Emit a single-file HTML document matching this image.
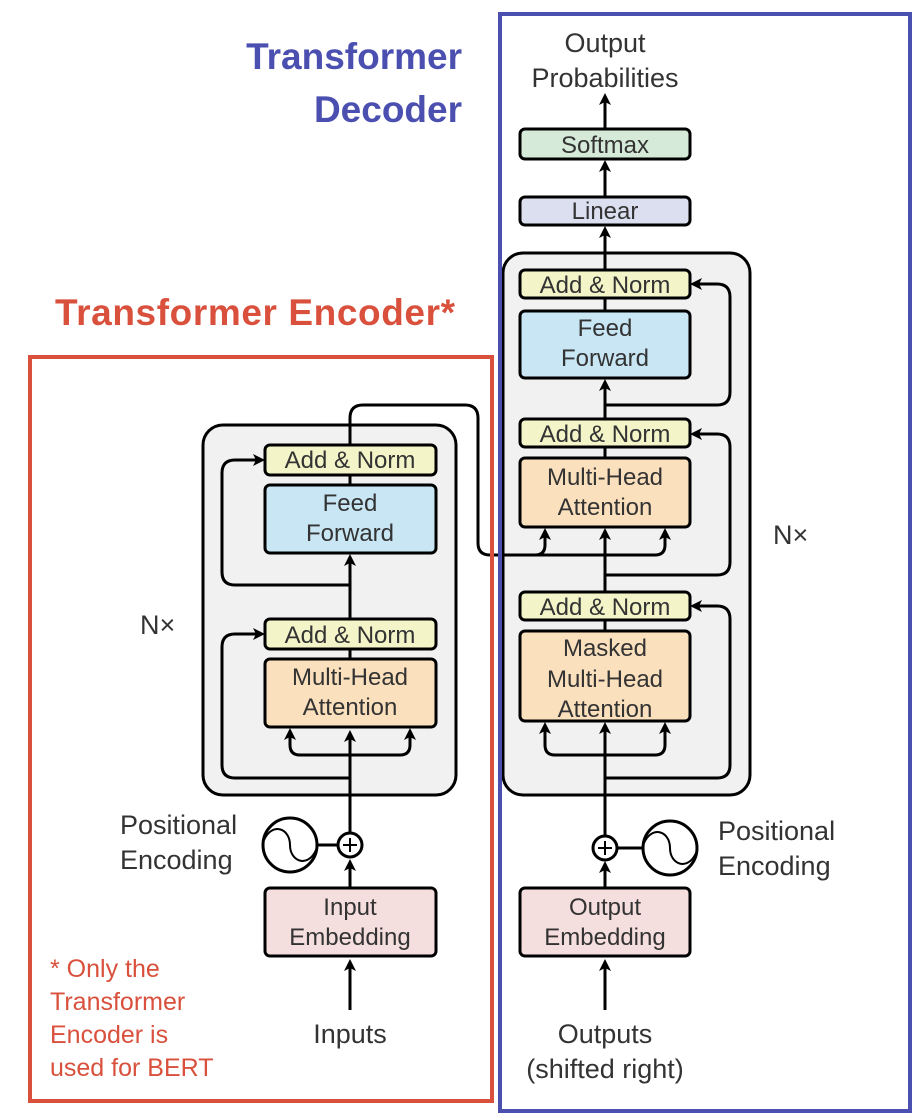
<!DOCTYPE html><html><head><style>body{margin:0;background:#fff}svg{display:block}</style></head><body>
<svg width="920" height="1120" viewBox="0 0 920 1120" xmlns="http://www.w3.org/2000/svg" font-family="Liberation Sans, sans-serif">
<defs><marker id="a" markerWidth="12" markerHeight="12" refX="9" refY="6" orient="auto" markerUnits="userSpaceOnUse"><path d="M0,0 L12,6 L0,12 L3,6z" fill="#000"/></marker></defs>
<rect x="0" y="0" width="920" height="1120" fill="#fff"/>
<rect x="203" y="425" width="253" height="370" rx="20" fill="#f1f1f1" stroke="#000" stroke-width="3"/>
<rect x="503" y="253" width="247" height="542" rx="20" fill="#f1f1f1" stroke="#000" stroke-width="3"/>
<g fill="none" stroke="#000" stroke-width="3">
<path d="M350 1010 L350 962" marker-end="url(#a)"/>
<path d="M350 888 L350 862" marker-end="url(#a)"/>
<path d="M350 833 L350 733" marker-end="url(#a)"/>
<path d="M350 778 L235 778 Q222 778 222 765 L222 647 Q222 634 235 634 L262 634" marker-end="url(#a)"/>
<path d="M300 755 Q290 755 290 745 L290 731" marker-end="url(#a)"/>
<path d="M300 755 L400 755 Q410 755 410 745 L410 731" marker-end="url(#a)"/>
<path d="M350 659 L350 649"/>
<path d="M350 619 L350 557" marker-end="url(#a)"/>
<path d="M350 585 L235 585 Q222 585 222 572 L222 473 Q222 460 235 460 L262 460" marker-end="url(#a)"/>
<path d="M350 485 L350 475"/>
<path d="M350 445 L350 418 Q350 405 363 405 L465 405 Q478 405 478 418 L478 543 Q478 555 490 555 L655 555 Q665 555 665 545 L665 531" marker-end="url(#a)"/>
<path d="M535 555 Q545 555 545 545 L545 531" marker-end="url(#a)"/>
<path d="M605 1010 L605 962" marker-end="url(#a)"/>
<path d="M605 888 L605 864" marker-end="url(#a)"/>
<path d="M605 836 L605 725" marker-end="url(#a)"/>
<path d="M605 778 L717 778 Q730 778 730 765 L730 619 Q730 606 717 606 L693 606" marker-end="url(#a)"/>
<path d="M555 755 Q545 755 545 745 L545 725" marker-end="url(#a)"/>
<path d="M555 755 L655 755 Q665 755 665 745 L665 725" marker-end="url(#a)"/>
<path d="M605 631 L605 620"/>
<path d="M605 592 L605 531" marker-end="url(#a)"/>
<path d="M605 575 L717 575 Q730 575 730 562 L730 447 Q730 434 717 434 L693 434" marker-end="url(#a)"/>
<path d="M605 458 L605 447"/>
<path d="M605 419 L605 382" marker-end="url(#a)"/>
<path d="M605 405 L717 405 Q730 405 730 392 L730 297 Q730 284 717 284 L693 284" marker-end="url(#a)"/>
<path d="M605 311 L605 298"/>
<path d="M605 270 L605 229" marker-end="url(#a)"/>
<path d="M605 197 L605 163" marker-end="url(#a)"/>
<path d="M605 129 L605 96" marker-end="url(#a)"/>
<path d="M317 845 L338 845"/><path d="M617 848 L643 848"/>
</g>
<g stroke="#000" stroke-width="3">
<rect x="265" y="445" width="171" height="30" rx="5" fill="#f3f5c8"/>
<rect x="265" y="485" width="171" height="68" rx="5" fill="#c8e6f4"/>
<rect x="265" y="619" width="171" height="30" rx="5" fill="#f3f5c8"/>
<rect x="265" y="659" width="171" height="68" rx="5" fill="#fbe0bd"/>
<rect x="265" y="888" width="171" height="68" rx="5" fill="#f5dede"/>
<rect x="520" y="270" width="170" height="28" rx="5" fill="#f3f5c8"/>
<rect x="520" y="311" width="170" height="67" rx="5" fill="#c8e6f4"/>
<rect x="520" y="419" width="170" height="28" rx="5" fill="#f3f5c8"/>
<rect x="520" y="458" width="170" height="69" rx="5" fill="#fbe0bd"/>
<rect x="520" y="592" width="170" height="28" rx="5" fill="#f3f5c8"/>
<rect x="520" y="631" width="170" height="90" rx="5" fill="#fbe0bd"/>
<rect x="520" y="888" width="170" height="68" rx="5" fill="#f5dede"/>
<rect x="520" y="197" width="170" height="28" rx="5" fill="#dcdff0"/>
<rect x="520" y="129" width="170" height="30" rx="5" fill="#d5ead8"/>
<circle cx="350" cy="845" r="12" fill="#fff"/><circle cx="290" cy="845" r="27" fill="#fff"/>
<circle cx="605" cy="848" r="12" fill="#fff"/><circle cx="670" cy="848" r="27" fill="#fff"/>
</g>
<g stroke="#000" stroke-width="2" fill="none">
<path d="M343 845 L357 845 M350 838 L350 852"/><path d="M598 848 L612 848 M605 841 L605 855"/>
<path d="M264 840 C272 822 290 828 290 845 C290 862 308 868 316 850"/>
<path d="M644 843 C652 825 670 831 670 848 C670 865 688 871 696 853"/>
</g>
<g font-size="24" fill="#333" text-anchor="middle">
<text x="350" y="468">Add &amp; Norm</text><text x="350" y="511">Feed</text><text x="350" y="541">Forward</text>
<text x="350" y="643">Add &amp; Norm</text><text x="350" y="685">Multi-Head</text><text x="350" y="715">Attention</text>
<text x="350" y="915">Input</text><text x="350" y="945">Embedding</text>
<text x="605" y="293">Add &amp; Norm</text><text x="605" y="336">Feed</text><text x="605" y="366">Forward</text>
<text x="605" y="442">Add &amp; Norm</text><text x="605" y="485">Multi-Head</text><text x="605" y="515">Attention</text>
<text x="605" y="615">Add &amp; Norm</text><text x="605" y="656">Masked</text><text x="605" y="687">Multi-Head</text><text x="605" y="717">Attention</text>
<text x="605" y="915">Output</text><text x="605" y="945">Embedding</text>
<text x="605" y="219">Linear</text><text x="605" y="153">Softmax</text>
<text x="605" y="52" font-size="27">Output</text><text x="605" y="87" font-size="27">Probabilities</text>
<text x="350" y="1043" font-size="27">Inputs</text>
<text x="605" y="1043" font-size="27">Outputs</text><text x="605" y="1078" font-size="27">(shifted right)</text>
</g>
<g font-size="27" fill="#333">
<text x="120" y="834">Positional</text><text x="120" y="869">Encoding</text>
<text x="718" y="840">Positional</text><text x="718" y="875">Encoding</text>
<text x="140" y="634">N×</text><text x="773" y="544">N×</text>
</g>
<rect x="30" y="357" width="462" height="744" fill="none" stroke="#d9503c" stroke-width="4"/>
<rect x="500" y="14" width="410" height="1097" fill="none" stroke="#4a4fb0" stroke-width="4"/>
<g font-weight="bold" font-size="37" fill="#4a4fb0" text-anchor="end">
<text x="462" y="69">Transformer</text><text x="462" y="122">Decoder</text></g>
<text x="55" y="325" font-weight="bold" font-size="37" fill="#d9503c" textLength="400">Transformer Encoder*</text>
<g font-size="25" fill="#d9503c">
<text x="50" y="977">* Only the</text><text x="50" y="1010">Transformer</text><text x="50" y="1043">Encoder is</text><text x="50" y="1076">used for BERT</text></g>
</svg></body></html>
